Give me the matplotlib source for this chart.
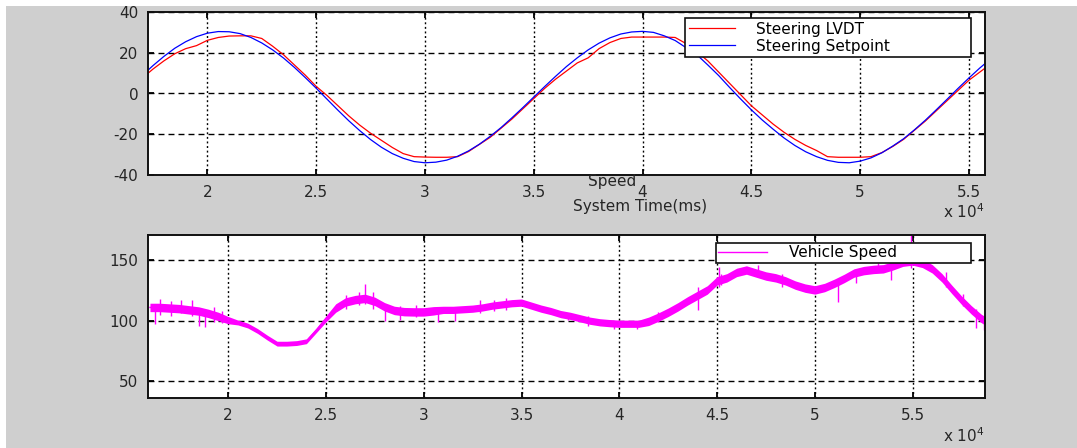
import matplotlib
matplotlib.use('Agg')
import matplotlib.pyplot as plt
from matplotlib.patches import Rectangle
from matplotlib.ticker import FixedLocator, FixedFormatter

# ---------------- data ----------------
steer_t = [17000, 17500, 18000, 18500, 19000, 19500, 20000, 20500, 21000, 21500,
           22000, 22500, 23000, 23500, 24000, 24500, 25000, 25500, 26000, 26500,
           27000, 27500, 28000, 28500, 29000, 29500, 30000, 30500, 31000, 31500,
           32000, 32500, 33000, 33500, 34000, 34500, 35000, 35500, 36000, 36500,
           37000, 37500, 38000, 38500, 39000, 39500, 40000, 40500, 41000, 41500,
           42000, 42500, 43000, 43500, 44000, 44500, 45000, 45500, 46000, 46500,
           47000, 47500, 48000, 48500, 49000, 49500, 50000, 50500, 51000, 51500,
           52000, 52500, 53000, 53500, 54000, 54500, 55000, 55500, 56000]
steer_lvdt = [7.5, 12.0, 16.0, 19.5, 22.0, 23.5, 26.1, 27.5, 28.2, 28.3,
              28.3, 27.0, 23.2, 19.0, 14.0, 9.0, 3.5, -1.0, -6.0, -11.0,
              -15.5, -19.5, -23.0, -26.5, -29.5, -31.0, -31.2, -31.3, -31.3, -31.0,
              -28.5, -25.0, -21.5, -17.0, -12.5, -7.5, -2.5, 2.5, 7.0, 11.0,
              15.0, 17.5, 22.0, 25.0, 27.0, 27.7, 27.7, 27.7, 27.7, 27.5,
              24.5, 20.5, 16.0, 10.5, 5.0, -0.5, -6.0, -10.5, -15.0, -19.0,
              -22.5, -25.5, -28.0, -31.0, -31.3, -31.3, -31.3, -31.0, -29.0, -26.0,
              -22.5, -18.0, -13.5, -8.5, -3.5, 1.5, 6.5, 10.5, 14.5]
steer_setpoint = [8.8, 13.7, 18.2, 22.2, 25.4, 27.9, 29.6, 30.4, 30.3, 29.4,
                  27.5, 24.8, 21.4, 17.4, 12.8, 7.8, 2.6, -2.8, -8.2, -13.4,
                  -18.2, -22.6, -26.4, -29.5, -31.8, -33.4, -34.0, -33.7, -32.7, -30.8,
                  -28.2, -24.9, -21.0, -16.7, -11.9, -6.9, -1.75, 3.4, 8.4, 13.2,
                  17.5, 21.4, 24.7, 27.3, 29.2, 30.2, 30.5, 30.0, 28.3, 26.0,
                  22.5, 19.0, 14.0, 8.8, 3.0, -2.6, -8.0, -13.0, -17.5, -21.8,
                  -25.5, -28.6, -31.0, -32.8, -33.8, -34.0, -33.2, -31.6, -29.1, -25.8,
                  -22.2, -17.8, -13.1, -8.0, -2.8, 2.5, 7.6, 12.5, 17.0]

speed_t = [16000, 16500, 17000, 17500, 18000, 18500, 19000, 19500, 20000, 20500,
           21000, 21500, 22000, 22500, 23000, 23500, 24000, 24500, 25000, 25500,
           26000, 26500, 27000, 27500, 28000, 28500, 29000, 29500, 30000, 30500,
           31000, 31500, 32000, 32500, 33000, 33500, 34000, 34500, 35000, 35500,
           36000, 36500, 37000, 37500, 38000, 38500, 39000, 39500, 40000, 40500,
           41000, 41500, 42000, 42500, 43000, 43500, 44000, 44500, 45000, 45500,
           46000, 46500, 47000, 47500, 48000, 48500, 49000, 49500, 50000, 50500,
           51000, 51500, 52000, 52500, 53000, 53500, 54000, 54500, 55000, 55500,
           56000, 56500, 57000, 57500, 58000, 58500, 58700]
speed = [111, 111, 110.5, 110, 109, 108, 106, 103.5, 100.5, 98.5,
         96, 91.5, 86, 81, 81, 81.5, 83, 92, 101.5, 110.5,
         115.5, 117.5, 118.5, 116, 111.5, 108.5, 107.5, 107.3, 107.3, 108.2,
         109, 109, 109.5, 110, 111, 112.5, 113.5, 114.5, 115, 112.5,
         110, 108, 105.5, 104, 102, 100, 98.7, 98, 97.5, 97.5,
         97.5, 99.5, 103, 107, 111.5, 116.5, 121, 125.5, 133, 135.5,
         140, 142, 139.5, 137, 135.5, 133, 129.5, 127, 125.5, 127.5,
         131, 135, 139.5, 141.5, 142.5, 143, 145.5, 148.5, 149.5, 147.5,
         143, 135.5, 126, 117, 109, 102, 100]
speed_noise = [3.5, 3.5, 3.5, 3.5, 3.5, 3.5, 3.5, 3.5, 3, 2,
               2, 2, 2, 2, 2, 2, 2, 2, 2.5, 3.5,
               3.5, 3.5, 3.5, 3.5, 3.5, 3.5, 3.5, 3.5, 3.5, 3.5,
               3, 3, 3, 3, 3, 3, 3, 3, 3, 3,
               3, 3, 3, 3, 3, 3, 3, 3, 3, 3,
               3, 3.5, 3.5, 3.5, 3.5, 3.5, 3.5, 3.5, 3.5, 3.5,
               3.5, 3.5, 3.5, 3.5, 3.5, 3.5, 3.5, 3.5, 3.5, 3.5,
               3.5, 3.5, 3.5, 3.5, 3.5, 3.5, 3.5, 3.5, 3.5, 3.5,
               3.5, 3.5, 3.5, 3.5, 3.5, 3.5, 3.5]
spike_t = [16260, 16500, 17100, 17600, 18160, 18500, 18830, 19300, 19700,
           26000, 26700, 27020, 27400, 28040, 28800, 29600, 30750, 31600,
           32900, 33570, 34200, 37360, 38380, 39710, 40900, 41970, 44010,
           45090, 45190, 47090, 48300, 51180, 52100, 53230, 53900, 54920,
           56700, 57600, 58250, 58660]
spike_lo = [97, 105, 104, 106, 104, 96, 95, 99, 98,
            110, 113, 114, 110, 100, 101, 103, 99, 100,
            106, 108, 109, 100.4, 96, 93, 93, 99, 108.7,
            128, 130, 136, 128, 115.6, 131, 140, 134, 144,
            128, 112, 93.8, 92.6]
spike_hi = [113, 118, 116, 117, 117, 110, 108, 111, 108,
            121, 124, 130.7, 124, 113, 112, 113, 110, 111,
            117.4, 117, 119, 106, 104, 100, 100, 107.3, 128,
            144.5, 139, 145.9, 139, 132, 141, 147.5, 144, 171,
            140, 122, 110, 103]

xtick_vals = [20000, 25000, 30000, 35000, 40000, 45000, 50000, 55000]
xtick_labels = ['2', '2.5', '3', '3.5', '4', '4.5', '5', '5.5']
top_yticks = [-40, -20, 0, 20, 40]
bot_yticks = [50, 100, 150]

# ---------------- styling ----------------
plt.rcParams['font.family'] = ['DejaVu Sans']
plt.rcParams['axes.unicode_minus'] = False
FS = 11
TXT = '#262626'
W, H = 1077, 448

fig = plt.figure(figsize=(W / 100, H / 100), dpi=100, facecolor='white')
fig.patches.append(Rectangle((6 / W, 0), 1 - 6 / W, 1 - 6 / H, transform=fig.transFigure,
                             facecolor='#cfcfcf', edgecolor='none', zorder=-10))

def px_axes(left, top, right, bottom):
    return fig.add_axes([left / W, 1 - bottom / H, (right - left) / W, (bottom - top) / H])

AX_L, AX_R = 148, 985
ax1 = px_axes(AX_L, 12, AX_R, 175)
ax2 = px_axes(AX_L, 235, AX_R, 398)

def style(ax):
    ax.set_facecolor('white')
    for s in ax.spines.values():
        s.set_linewidth(1.4)
        s.set_color('#111111')
    ax.tick_params(direction='in', length=4, width=1.3, top=True, right=True,
                   labelsize=FS, labelcolor=TXT, pad=7)
    ax.xaxis.grid(True, color='black', linewidth=1.0, linestyle=(0, (1.4, 1.9)))
    ax.yaxis.grid(True, color='black', linewidth=1.0, linestyle=(0, (4.3, 2.9)))
    ax.set_axisbelow(True)
    ax.xaxis.set_major_locator(FixedLocator(xtick_vals))
    ax.xaxis.set_major_formatter(FixedFormatter(xtick_labels))

def legend_box(ax, left_px, right_px, top_px, ax_top, ax_bottom, **kw):
    x0 = (left_px - AX_L) / (AX_R - AX_L)
    w = (right_px - left_px) / (AX_R - AX_L)
    y1 = (ax_bottom - top_px) / (ax_bottom - ax_top)
    leg = ax.legend(loc='upper left', bbox_to_anchor=(x0, 0.0, w, y1), mode='expand',
                    fontsize=FS, frameon=True, fancybox=False, edgecolor='#111111',
                    framealpha=1, borderaxespad=0, **kw)
    leg.get_frame().set_linewidth(1.2)
    return leg

# top plot
style(ax1)
ax1.plot(steer_t, steer_lvdt, color='#ff0000', lw=0.9, label='Steering LVDT')
ax1.plot(steer_t, steer_setpoint, color='#0000ff', lw=0.9, label='Steering Setpoint')
ax1.set_xlim(17270, 55740)
ax1.set_ylim(-40, 40)
ax1.set_yticks(top_yticks)
legend_box(ax1, 685, 971, 18, 12, 175, handlelength=3.0, handletextpad=1.4,
           borderpad=0.25, labelspacing=0.12)

# bottom plot
style(ax2)
lower = [c - h for c, h in zip(speed, speed_noise)]
upper = [c + h for c, h in zip(speed, speed_noise)]
ax2.fill_between(speed_t, lower, upper, color='#ff00ff', lw=0)
ax2.vlines(spike_t, spike_lo, spike_hi, color='#ff00ff', lw=1.0)
ax2.plot(speed_t, speed, color='#ff00ff', lw=1.0, label='Vehicle Speed')
ax2.set_xlim(15900, 58700)
ax2.set_ylim(36, 171)
ax2.set_yticks(bot_yticks)
legend_box(ax2, 716, 971, 243, 235, 398, handlelength=3.2, handletextpad=1.4,
           borderpad=0.15)

# texts
fig.text(612 / W, 1 - 181 / H, 'Speed', ha='center', va='center', fontsize=FS, color=TXT)
fig.text(640 / W, 1 - 206 / H, 'System Time(ms)', ha='center', va='center', fontsize=FS, color=TXT)
fig.text(985 / W, 1 - 212 / H, r'x 10$^{4}$', ha='right', va='center', fontsize=FS, color=TXT)
fig.text(985 / W, 1 - 436 / H, r'x 10$^{4}$', ha='right', va='center', fontsize=FS, color=TXT)

fig.savefig('out.png', dpi=100, facecolor=fig.get_facecolor())
